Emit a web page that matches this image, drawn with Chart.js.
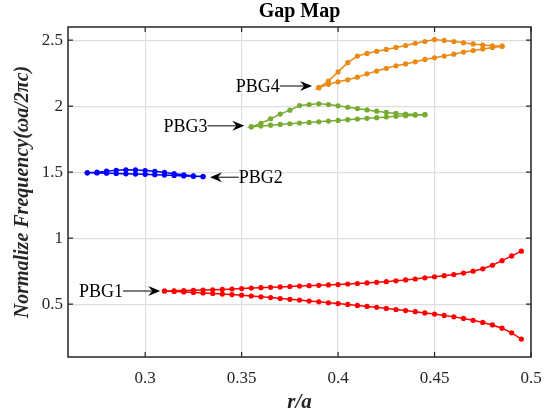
<!DOCTYPE html>
<html>
<head>
<meta charset="utf-8">
<script src="https://cdn.jsdelivr.net/npm/chart.js@4.4.0/dist/chart.umd.min.js"></script>
<style>
  html, body { margin: 0; padding: 0; background: #fff; }
</style>
</head>
<body>
<canvas id="graficoGap" width="555" height="418"></canvas>
<script>
// dados
const xTicks = [0.3, 0.35, 0.4, 0.45, 0.5];
const yTicks = [0.5, 1, 1.5, 2, 2.5];

const r1 = [0.310, 0.315, 0.320, 0.325, 0.330, 0.335, 0.340, 0.345, 0.350, 0.355,
            0.360, 0.365, 0.370, 0.375, 0.380, 0.385, 0.390, 0.395, 0.400, 0.405,
            0.410, 0.415, 0.420, 0.425, 0.430, 0.435, 0.440, 0.445, 0.450, 0.455,
            0.460, 0.465, 0.470, 0.475, 0.480, 0.485, 0.490, 0.495];
const sup1 = [0.600, 0.601, 0.603, 0.605, 0.607, 0.609, 0.612, 0.615, 0.619, 0.622,
              0.625, 0.628, 0.631, 0.634, 0.637, 0.640, 0.643, 0.646, 0.649, 0.653,
              0.657, 0.661, 0.666, 0.671, 0.677, 0.684, 0.691, 0.700, 0.708, 0.716,
              0.725, 0.736, 0.750, 0.768, 0.795, 0.830, 0.866, 0.902];
const inf1 = [0.600, 0.597, 0.593, 0.589, 0.585, 0.581, 0.577, 0.573, 0.568, 0.562,
              0.556, 0.550, 0.543, 0.537, 0.531, 0.524, 0.518, 0.511, 0.505, 0.498,
              0.491, 0.483, 0.476, 0.468, 0.460, 0.452, 0.443, 0.434, 0.425, 0.415,
              0.404, 0.392, 0.378, 0.362, 0.343, 0.318, 0.283, 0.236];

const r2 = [0.270, 0.275, 0.280, 0.285, 0.290, 0.295, 0.300, 0.305, 0.310, 0.315, 0.320, 0.325, 0.330];
const sup2 = [1.495, 1.500, 1.508, 1.514, 1.518, 1.517, 1.513, 1.507, 1.498, 1.489, 1.480, 1.472, 1.467];
const inf2 = [1.495, 1.494, 1.492, 1.490, 1.488, 1.486, 1.484, 1.481, 1.478, 1.475, 1.472, 1.469, 1.467];

const r3 = [0.355, 0.360, 0.365, 0.370, 0.375, 0.380, 0.385, 0.390, 0.395, 0.400,
            0.405, 0.410, 0.415, 0.420, 0.425, 0.430, 0.435, 0.440, 0.445];
const sup3 = [1.844, 1.870, 1.905, 1.940, 1.970, 2.005, 2.013, 2.018, 2.013, 2.003,
              1.992, 1.982, 1.972, 1.962, 1.953, 1.945, 1.940, 1.937, 1.936];
const inf3 = [1.844, 1.850, 1.856, 1.862, 1.867, 1.872, 1.877, 1.882, 1.887, 1.892,
              1.898, 1.903, 1.908, 1.913, 1.918, 1.923, 1.928, 1.932, 1.936];

const r4 = [0.390, 0.395, 0.400, 0.405, 0.410, 0.415, 0.420, 0.425, 0.430, 0.435,
            0.440, 0.445, 0.450, 0.455, 0.460, 0.465, 0.470, 0.475, 0.480, 0.485];
const sup4 = [2.140, 2.190, 2.260, 2.330, 2.380, 2.400, 2.416, 2.430, 2.445, 2.460,
              2.477, 2.490, 2.505, 2.498, 2.490, 2.480, 2.472, 2.463, 2.458, 2.455];
const inf4 = [2.140, 2.166, 2.185, 2.200, 2.220, 2.245, 2.266, 2.287, 2.306, 2.320,
              2.336, 2.354, 2.367, 2.380, 2.394, 2.410, 2.422, 2.434, 2.445, 2.455];

// anotações (rótulo, cauda e ponta da seta em coordenadas do gráfico)
const rotulos = ['PBG1', 'PBG2', 'PBG3', 'PBG4'];
const caudaX = [0.2885, 0.3485, 0.3323, 0.3698];
const caudaY = [0.600, 1.462, 1.851, 2.153];
const pontaX = [0.3078, 0.3336, 0.3514, 0.3865];
const pontaY = [0.600, 1.462, 1.851, 2.153];

function contorno(r, sup, inf) {
  const pts = [];
  for (let i = r.length - 1; i >= 0; i--) pts.push({ x: r[i], y: sup[i] });
  for (let i = 0; i < r.length; i++) pts.push({ x: r[i], y: inf[i] });
  return pts;
}

function serie(nome, pts, cor) {
  return {
    label: nome,
    data: pts,
    showLine: true,
    borderColor: cor,
    backgroundColor: cor,
    borderWidth: 1.5,
    pointRadius: 2.6,
    pointBorderWidth: 0,
    pointHoverRadius: 2.6,
  };
}

const serif = '"Liberation Serif", "Times New Roman", serif';

const molduraPlugin = {
  id: 'moldura',
  afterDraw(chart) {
    const { ctx, chartArea: a, scales: { x, y } } = chart;
    ctx.save();
    // caixa
    ctx.strokeStyle = '#262626';
    ctx.lineWidth = 1.5;
    ctx.strokeRect(a.left, a.top, a.right - a.left, a.bottom - a.top);
    // ticks para dentro
    ctx.lineWidth = 1.2;
    ctx.beginPath();
    xTicks.forEach(v => {
      const px = x.getPixelForValue(v);
      ctx.moveTo(px, a.bottom); ctx.lineTo(px, a.bottom - 5);
      ctx.moveTo(px, a.top); ctx.lineTo(px, a.top + 5);
    });
    yTicks.forEach(v => {
      const py = y.getPixelForValue(v);
      ctx.moveTo(a.left, py); ctx.lineTo(a.left + 5, py);
      ctx.moveTo(a.right, py); ctx.lineTo(a.right - 5, py);
    });
    ctx.stroke();

    // setas e rótulos
    ctx.fillStyle = '#000';
    ctx.strokeStyle = '#000';
    ctx.font = '18px ' + serif;
    ctx.textBaseline = 'middle';
    for (let i = 0; i < rotulos.length; i++) {
      const tx = x.getPixelForValue(caudaX[i]);
      const ty = y.getPixelForValue(caudaY[i]);
      const hx = x.getPixelForValue(pontaX[i]);
      const hy = y.getPixelForValue(pontaY[i]);
      const dir = hx > tx ? 1 : -1;
      ctx.lineWidth = 1;
      ctx.beginPath();
      ctx.moveTo(tx, ty); ctx.lineTo(hx - dir * 6, hy);
      ctx.stroke();
      ctx.beginPath();
      ctx.moveTo(hx, hy);
      ctx.lineTo(hx - dir * 12, hy - 5);
      ctx.lineTo(hx - dir * 8, hy);
      ctx.lineTo(hx - dir * 12, hy + 5);
      ctx.closePath();
      ctx.fill();
      ctx.textAlign = dir > 0 ? 'right' : 'left';
      ctx.fillText(rotulos[i], tx, ty + 1);
    }

    // títulos
    const cx = (a.left + a.right) / 2;
    ctx.fillStyle = '#000';
    ctx.textAlign = 'center';
    ctx.font = 'bold 20px ' + serif;
    ctx.fillText('Gap Map', cx, 12);
    ctx.fillStyle = '#262626';
    ctx.font = 'italic bold 21px ' + serif;
    ctx.fillText('r/a', cx, 403);
    ctx.translate(23, (a.top + a.bottom) / 2);
    ctx.rotate(-Math.PI / 2);
    ctx.font = 'italic bold 20px ' + serif;
    ctx.fillText('Normalize Frequency(\u03C9a/2\u03C0c)', 0, 0);
    ctx.restore();
  }
};

const ctx = document.getElementById('graficoGap').getContext('2d');

new Chart(ctx, {
  type: 'scatter',
  data: {
    datasets: [
      serie('PBG1', contorno(r1, sup1, inf1), '#ff0000'),
      serie('PBG2', contorno(r2, sup2, inf2), '#0000ff'),
      serie('PBG3', contorno(r3, sup3, inf3), '#77ac30'),
      serie('PBG4', contorno(r4, sup4, inf4), '#ea8a14'),
    ],
  },
  options: {
    responsive: false,
    animation: false,
    devicePixelRatio: 1,
    layout: { padding: { top: 27, right: 24, left: 0, bottom: 0 } },
    plugins: {
      legend: { display: false },
      title: { display: false },
      tooltip: { enabled: false },
    },
    scales: {
      x: {
        type: 'linear',
        min: 0.26,
        max: 0.5,
        afterBuildTicks: s => { s.ticks = xTicks.map(v => ({ value: v })); },
        afterFit: s => { s.height = 61; },
        grid: { color: '#dedede', lineWidth: 1.2, drawTicks: false },
        border: { display: false },
        ticks: {
          padding: 11,
          color: '#262626',
          font: { family: serif, size: 17 },
          callback: v => String(v),
        },
      },
      y: {
        type: 'linear',
        min: 0.1,
        max: 2.6,
        afterBuildTicks: s => { s.ticks = yTicks.map(v => ({ value: v })); },
        afterFit: s => { s.width = 68; },
        grid: { color: '#dedede', lineWidth: 1.2, drawTicks: false },
        border: { display: false },
        ticks: {
          padding: 5,
          color: '#262626',
          font: { family: serif, size: 17 },
          callback: v => String(v),
        },
      },
    },
  },
  plugins: [molduraPlugin],
});
</script>
</body>
</html>
